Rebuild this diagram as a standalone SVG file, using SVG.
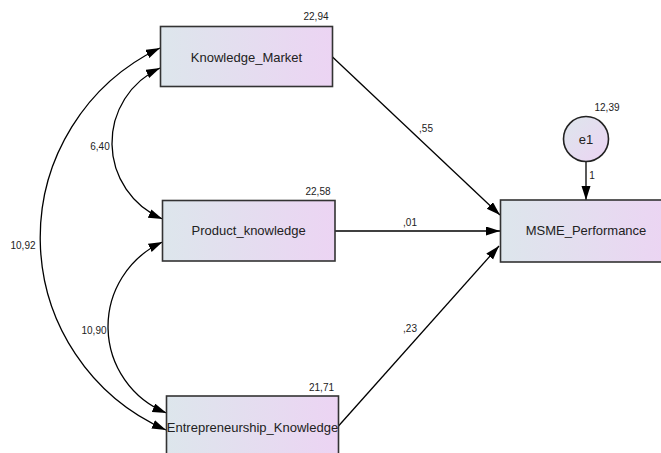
<svg xmlns="http://www.w3.org/2000/svg" width="661" height="453" viewBox="0 0 661 453">
  <defs>
    <linearGradient id="boxFill" x1="0" y1="0" x2="1" y2="0">
      <stop offset="0" stop-color="#dde6ec"/>
      <stop offset="1" stop-color="#ecd4f3"/>
    </linearGradient>
    <linearGradient id="circleFill" x1="0" y1="0" x2="1" y2="1">
      <stop offset="0" stop-color="#dde6ec"/>
      <stop offset="1" stop-color="#ecd4f3"/>
    </linearGradient>
    <marker id="head" markerUnits="userSpaceOnUse" markerWidth="15" markerHeight="10" refX="14" refY="4.5" orient="auto-start-reverse">
      <path d="M0,0 L14,4.5 L0,9 Z" fill="#000"/>
    </marker>
  </defs>
  <style>
    .box { fill: url(#boxFill); stroke: #333; stroke-width: 1.6; }
    .err { fill: url(#circleFill); stroke: #222; stroke-width: 1.6; }
    .name { font-family: "Liberation Sans", Arial, sans-serif; font-size: 13px; fill: #222; text-anchor: middle; }
    .num { font-family: "Liberation Sans", Arial, sans-serif; font-size: 10px; fill: #222; text-anchor: middle; }
    .path { fill: none; stroke: #000; stroke-width: 1.3; marker-end: url(#head); }
    .cov { fill: none; stroke: #000; stroke-width: 1.3; marker-start: url(#head); marker-end: url(#head); }
  </style>

  <rect width="661" height="453" fill="#fff"/>

  <!-- regression paths, covariances and error term link -->
  <g id="connectors">
    <path class="path" d="M332.5,57 L500,215"/>
    <path class="path" d="M335,231 L500,231"/>
    <path class="path" d="M338.5,426 L499,246"/>
    <path class="path" d="M586,161.5 L586,200"/>
    <path class="cov" d="M160,48 A210,210 0 0,0 166,430"/>
    <path class="cov" d="M160,68 A82.5,82.5 0 0,0 162.5,219"/>
    <path class="cov" d="M162.5,242 A93,93 0 0,0 166.5,413"/>
    <text class="num" x="426" y="132">,55</text>
    <text class="num" x="410" y="226">,01</text>
    <text class="num" x="410" y="332">,23</text>
    <text class="num" x="592" y="179">1</text>
    <text class="num" x="100" y="150">6,40</text>
    <text class="num" x="23" y="249">10,92</text>
    <text class="num" x="94" y="334">10,90</text>
  </g>

  <g id="knowledge_market">
    <rect class="box" x="160.5" y="26.5" width="172" height="60"/>
    <text class="name" x="246.5" y="61.5">Knowledge_Market</text>
    <text class="num" x="316" y="19.5">22,94</text>
  </g>

  <g id="product_knowledge">
    <rect class="box" x="162.5" y="200.5" width="172.5" height="60.5"/>
    <text class="name" x="248.7" y="235">Product_knowledge</text>
    <text class="num" x="318" y="194.5">22,58</text>
  </g>

  <g id="entrepreneurship_knowledge">
    <rect class="box" x="166.5" y="396" width="172" height="62"/>
    <text class="name" x="252.5" y="431.5">Entrepreneurship_Knowledge</text>
    <text class="num" x="321.5" y="391">21,71</text>
  </g>

  <g id="msme_performance">
    <rect class="box" x="500.5" y="200" width="171" height="62"/>
    <text class="name" x="586" y="235">MSME_Performance</text>
  </g>

  <g id="e1">
    <circle class="err" cx="586" cy="139" r="22.5"/>
    <text class="name" x="586" y="143.5">e1</text>
    <text class="num" x="607" y="110.5">12,39</text>
  </g>
</svg>
